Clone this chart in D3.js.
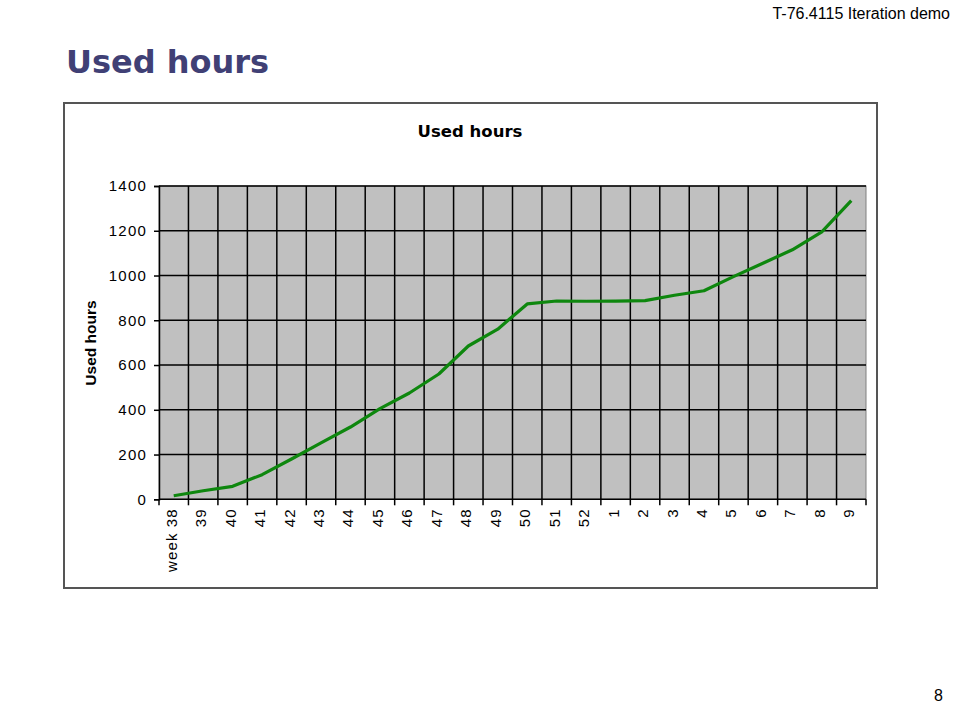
<!DOCTYPE html>
<html><head><meta charset="utf-8">
<script src="https://cdn.jsdelivr.net/npm/d3@7"></script>
<style>body{margin:0;background:#fff}svg{display:block}</style>
</head><body>
<svg id="c" width="960" height="720"></svg>
<script>
const weeks = ["week 38","39","40","41","42","43","44","45","46","47","48","49","50","51","52","1","2","3","4","5","6","7","8","9"];
const usedHours = [16,38,58,110,180,252,323,405,475,560,685,760,873,886,885,886,888,912,932,995,1055,1115,1195,1335];
const yTicks = [0,200,400,600,800,1000,1200,1400];

const svg = d3.select("#c");
// slide texts
svg.append("text").attr("x",950).attr("y",19).attr("text-anchor","end")
  .attr("font-family","Liberation Sans, Arial").attr("font-size",16).attr("fill","#000")
  .text("T-76.4115 Iteration demo");
svg.append("text").attr("x",66).attr("y",73)
  .attr("font-family","DejaVu Sans, Verdana").attr("font-weight","bold").attr("font-size",32).attr("fill","#404075")
  .text("Used hours");
svg.append("text").attr("x",943).attr("y",701).attr("text-anchor","end")
  .attr("font-family","Liberation Sans, Arial").attr("font-size",16).attr("fill","#000")
  .text("8");

// chart box
svg.append("rect").attr("x",64).attr("y",103).attr("width",813).attr("height",485)
  .attr("fill","#fff").attr("stroke","#555").attr("stroke-width",2);

const L=159, R=866, T=186, B=499.3;
const x = d3.scaleBand().domain(weeks).range([L,R]);
const y = d3.scaleLinear().domain([0,1400]).range([B,T]);

svg.append("rect").attr("x",L).attr("y",T).attr("width",R-L).attr("height",B-T)
  .attr("fill","#c0c0c0").attr("stroke","#808080").attr("stroke-width",1);

// horizontal gridlines
svg.append("g").selectAll("line").data(yTicks.slice(1)).join("line")
  .attr("x1",L).attr("x2",R).attr("y1",d=>y(d)).attr("y2",d=>y(d))
  .attr("stroke","#000").attr("stroke-width",1.5);
// vertical gridlines at band boundaries
svg.append("g").selectAll("line").data(weeks.slice(1)).join("line")
  .attr("x1",d=>x(d)).attr("x2",d=>x(d)).attr("y1",T).attr("y2",B)
  .attr("stroke","#000").attr("stroke-width",1.5);

// y axis
const ya = svg.append("g").attr("transform",`translate(${L},0)`)
  .call(d3.axisLeft(y).tickValues(yTicks).tickSize(5).tickPadding(7).tickFormat(d3.format("d")));
ya.select(".domain").attr("stroke","#000").attr("stroke-width",1.5);
ya.selectAll(".tick line").attr("stroke","#000").attr("stroke-width",1.5);
ya.selectAll("text").attr("font-family","Liberation Sans, Arial").attr("font-size",15)
  .attr("letter-spacing","1.2px").attr("fill","#000");

// x axis
const xa = svg.append("g").attr("transform",`translate(0,${B})`);
xa.append("line").attr("x1",L).attr("x2",R).attr("stroke","#000").attr("stroke-width",1.5);
const bounds = weeks.map(d=>x(d)).concat([R]);
xa.selectAll("line.t").data(bounds).join("line").attr("class","t")
  .attr("x1",d=>d).attr("x2",d=>d).attr("y1",0).attr("y2",6).attr("stroke","#000").attr("stroke-width",1.5);
xa.selectAll("text").data(weeks).join("text")
  .attr("transform",d=>`translate(${x(d)+x.bandwidth()/2+3},9) rotate(-90)`)
  .attr("text-anchor","end")
  .attr("font-family","Liberation Sans, Arial").attr("font-size",15).attr("letter-spacing","1.1px").attr("fill","#000")
  .text(d=>d);

// titles
svg.append("text").attr("x",470).attr("y",137).attr("text-anchor","middle")
  .attr("font-family","DejaVu Sans, Verdana").attr("font-weight","bold").attr("font-size",16.5).attr("fill","#000")
  .text("Used hours");
svg.append("text").attr("transform","translate(96,343) rotate(-90)").attr("text-anchor","middle")
  .attr("font-family","Liberation Sans, Arial").attr("font-weight","bold").attr("font-size",15.5).attr("fill","#000")
  .text("Used hours");

// line
const line = d3.line().x((d,i)=>x(weeks[i])+x.bandwidth()/2).y(d=>y(d));
svg.append("path").datum(usedHours).attr("d",line)
  .attr("fill","none").attr("stroke","#0e870e").attr("stroke-width",3.2).attr("stroke-linejoin","round");
</script>
</body></html>
